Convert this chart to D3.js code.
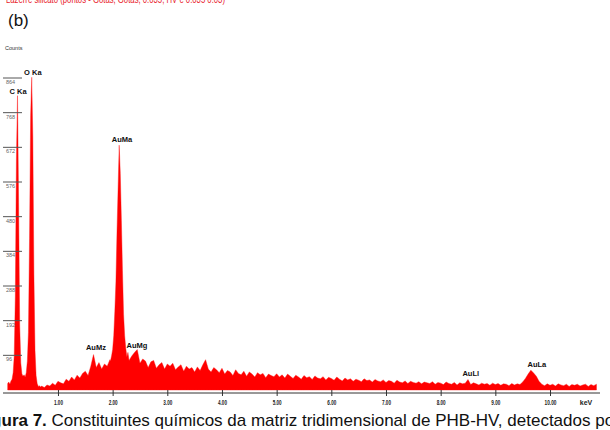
<!DOCTYPE html>
<html><head><meta charset="utf-8">
<script src="https://cdn.jsdelivr.net/npm/d3@7"></script>
<style>body{margin:0;background:#fff}svg{display:block}</style>
</head><body>
<script>
// Energy (keV) and counts
const energy = [
0.08,0.10,0.12,0.14,0.16,0.18,0.20,0.22,0.24,0.26,0.28,0.30,0.32,0.34,0.36,0.38,0.40,0.42,0.44,0.46,0.48,0.50,0.52,0.54,0.56,0.58,0.60,0.62,0.64,0.66,0.68,0.70,
0.75,0.80,0.85,0.90,0.95,1.00,1.05,1.10,1.15,1.20,1.25,1.30,1.35,1.40,1.45,1.50,1.55,1.60,1.65,1.70,1.75,1.80,1.85,1.90,1.95,
1.96,1.98,2.00,2.02,2.04,2.06,2.08,2.10,2.12,2.14,2.16,2.18,2.20,2.22,2.24,2.26,2.28,2.30,
2.35,2.40,2.45,2.50,2.55,2.60,2.65,2.70,2.75,2.80,2.85,2.90,2.95,3.00,3.05,3.10,3.15,3.20,3.25,3.30,3.35,3.40,3.45,3.50,3.55,3.60,3.65,3.70,3.75,3.80,3.85,3.90,3.95,
4.00,4.05,4.10,4.15,4.20,4.25,4.30,4.35,4.40,4.45,4.50,4.55,4.60,4.65,4.70,4.75,4.80,4.85,4.90,4.95,
5.00,5.05,5.10,5.15,5.20,5.25,5.30,5.35,5.40,5.45,5.50,5.55,5.60,5.65,5.70,5.75,5.80,5.85,5.90,5.95,
6.00,6.05,6.10,6.15,6.20,6.25,6.30,6.35,6.40,6.45,6.50,6.55,6.60,6.65,6.70,6.75,6.80,6.85,6.90,6.95,
7.00,7.05,7.10,7.15,7.20,7.25,7.30,7.35,7.40,7.45,7.50,7.55,7.60,7.65,7.70,7.75,7.80,7.85,7.90,7.95,
8.00,8.05,8.10,8.15,8.20,8.25,8.30,8.35,8.40,8.45,8.50,8.55,8.60,8.65,8.70,8.75,8.80,8.85,8.90,8.95,
9.00,9.05,9.10,9.15,9.20,9.25,9.30,9.35,9.40,9.45,9.50,9.55,9.60,9.65,9.70,9.75,9.80,9.85,9.90,9.95,
10.00,10.05,10.10,10.15,10.20,10.25,10.30,10.35,10.40,10.45,10.50,10.55,10.60,10.65,10.70,10.75,10.80,10.85];
const counts = [
18,22,16,25,30,48,95,260,640,815,520,180,75,45,38,42,36,48,80,160,420,760,866,700,320,110,40,18,10,12,8,11,
7,14,11,19,13,24,20,17,30,24,36,28,41,33,46,52,40,66,98,62,76,58,72,66,84,
80,94,112,150,218,300,440,560,678,600,470,330,210,150,116,92,104,82,
94,104,112,74,86,80,62,78,82,60,70,76,58,72,66,74,56,64,70,52,66,58,62,50,64,54,70,84,58,50,62,56,48,
60,44,54,50,40,56,46,42,52,38,50,44,36,48,42,46,34,44,40,37,
45,36,42,33,44,38,32,41,36,30,40,34,37,29,39,33,31,37,28,35,
32,27,36,30,25,33,28,31,24,30,27,23,31,26,28,22,29,25,23,28,
21,26,24,19,27,22,20,25,18,24,21,19,23,17,22,20,18,23,16,21,
19,15,22,18,16,21,14,20,17,19,29,15,20,17,14,19,16,18,13,19,
15,18,13,17,16,12,18,14,17,15,22,32,44,55,47,38,24,16,12,17,
13,16,11,17,14,12,16,10,15,13,16,11,14,16,10,15,12,16];

const yTicks = [96,192,288,384,480,576,672,768,864];
const xTicks = [1,2,3,4,5,6,7,8,9,10];
const peaks = [
  {label:"C Ka", e:0.27, c:820},
  {label:"O Ka", e:0.54, c:872},
  {label:"AuMa", e:2.17, c:688},
  {label:"AuMz", e:1.695, c:111},
  {label:"AuMg", e:2.445, c:116},
  {label:"AuLl", e:8.55, c:39},
  {label:"AuLa", e:9.76, c:64}
];

const W = 610, H = 430;
const svg = d3.select("body").append("svg").attr("width", W).attr("height", H);

const x = d3.scaleLinear().domain([0, 10]).range([3.3, 550]);
const y = d3.scaleLinear().domain([0, 864]).range([390, 78]);

// header red text (cut by top edge, as in the source)
svg.append("text").attr("x", 6).attr("y", 2.5)
  .attr("font-family", "Liberation Sans, Arial, sans-serif").attr("font-size", 10)
  .attr("fill", "#e8202a").attr("textLength", 219).attr("lengthAdjust", "spacingAndGlyphs")
  .text("Lazerre silicato (pontos - Gotas, Gotas, 0.035, HV e 0.035 0.03)");

svg.append("text").attr("x", 8).attr("y", 26)
  .attr("font-family", "Liberation Sans, Arial, sans-serif").attr("font-size", 17)
  .attr("fill", "#111").text("(b)");

svg.append("text").attr("x", 5).attr("y", 50)
  .attr("font-family", "Liberation Sans, Arial, sans-serif").attr("font-size", 5.5)
  .attr("fill", "#333").text("Counts");

// spectrum
const data = energy.map((e, i) => ({e, c: counts[i]}));
svg.append("path").datum(data)
  .attr("fill", "#ff0000").attr("stroke", "#ff1010").attr("stroke-width", 0.4)
  .attr("d", d3.area().x(d => x(d.e)).y0(y(0)).y1(d => y(d.c)));

// y ticks
const yg = svg.append("g");
yg.selectAll("line").data(yTicks).join("line")
  .attr("x1", 3).attr("x2", 22).attr("y1", d => y(d)).attr("y2", d => y(d))
  .attr("stroke", "#555").attr("stroke-width", 1);
yg.selectAll("text").data(yTicks).join("text")
  .attr("x", 6).attr("y", d => y(d) + 6)
  .attr("font-family", "Liberation Sans, Arial, sans-serif").attr("font-size", 5.5)
  .attr("fill", "#666").text(d => d);

// x axis
const xAxis = d3.axisBottom(x).tickValues(xTicks).tickSize(0).tickFormat(d3.format(".2f"));
const xg = svg.append("g").attr("transform", "translate(0,393)").call(xAxis);
xg.select(".domain").remove();
xg.append("line").attr("x1", 3).attr("x2", 600).attr("y1", 0).attr("y2", 0)
  .attr("stroke", "#333").attr("stroke-width", 1);
xg.selectAll(".tick").append("line").attr("y1", -3).attr("y2", 3).attr("stroke", "#333");
xg.selectAll(".tick text").attr("y", 12).attr("dy", 0)
  .attr("font-family", "Liberation Sans, Arial, sans-serif").attr("font-size", 7)
  .attr("font-weight", "bold").attr("fill", "#222")
  .attr("textLength", d => d >= 10 ? 12 : 9).attr("lengthAdjust", "spacingAndGlyphs");
svg.append("text").attr("x", 586).attr("y", 405).attr("text-anchor", "middle")
  .attr("font-family", "Liberation Sans, Arial, sans-serif").attr("font-size", 7)
  .attr("font-weight", "bold").attr("fill", "#222").text("keV");

// peak labels
svg.append("g").selectAll("text").data(peaks).join("text")
  .attr("x", d => x(d.e)).attr("y", d => y(d.c))
  .attr("text-anchor", "middle")
  .attr("font-family", "Liberation Sans, Arial, sans-serif").attr("font-size", 7.5)
  .attr("font-weight", "bold").attr("fill", "#111").text(d => d.label);

// caption (cut at both sides, as in the source)
const cap = svg.append("text").attr("x", -24).attr("y", 426)
  .attr("font-family", "Liberation Sans, Arial, sans-serif").attr("font-size", 17).attr("fill", "#111");
cap.append("tspan").attr("font-weight", "bold").text("Figura 7.");
cap.append("tspan").text(" Constituintes químicos da matriz tridimensional de PHB-HV, detectados por");
</script>
</body></html>
